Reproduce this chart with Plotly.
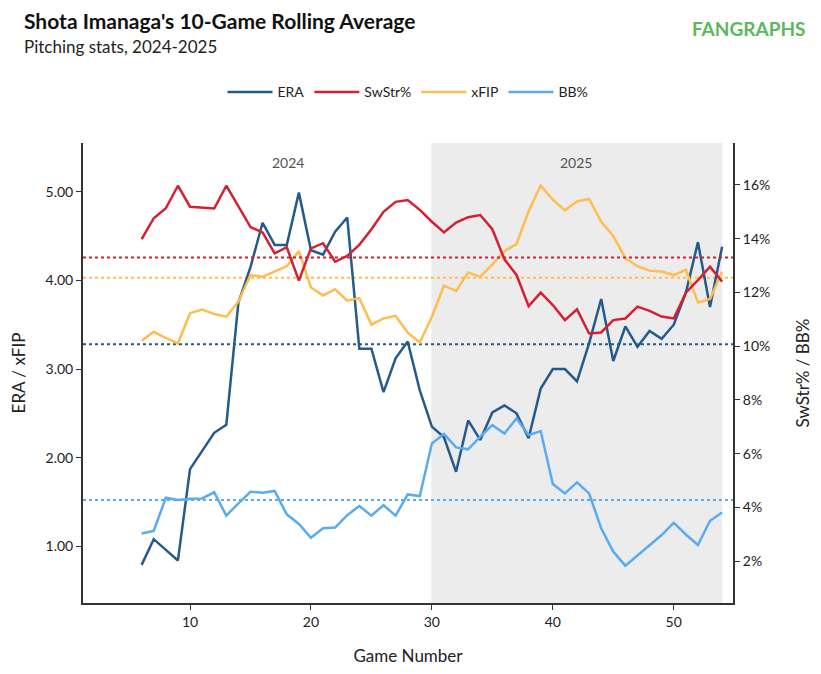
import plotly.graph_objects as go

games = list(range(6, 55))
era = [0.79,1.08,0.96,0.84,1.87,2.07,2.28,2.37,3.75,4.15,4.65,4.40,4.40,4.99,4.34,4.29,4.55,4.71,3.23,3.23,2.74,3.12,3.31,2.76,2.35,
       2.23,1.84,2.42,2.20,2.51,2.59,2.50,2.22,2.78,3.00,3.00,2.86,3.29,3.79,3.09,3.48,3.25,3.43,3.34,3.50,3.86,4.43,3.70,4.38]
swstr = [13.98,14.76,15.13,15.97,15.19,15.15,15.12,15.97,15.2,14.43,14.23,13.45,13.68,12.44,13.64,13.83,13.14,13.36,13.77,14.35,15.0,15.37,15.44,15.07,14.63,
         14.23,14.6,14.8,14.88,14.35,13.23,12.65,11.49,11.99,11.53,10.97,11.37,10.47,10.51,10.97,11.03,11.47,11.31,11.1,11.03,11.99,12.46,12.96,12.4]
xfip = [3.32,3.42,3.35,3.29,3.63,3.67,3.62,3.59,3.76,4.06,4.04,4.10,4.16,4.33,3.92,3.83,3.90,3.77,3.80,3.50,3.57,3.60,3.41,3.30,3.59,
        3.94,3.88,4.09,4.04,4.18,4.33,4.41,4.78,5.07,4.91,4.79,4.89,4.92,4.66,4.50,4.25,4.16,4.11,4.10,4.06,4.12,3.75,3.79,4.10]
bb = [3.03,3.12,4.36,4.27,4.32,4.33,4.56,3.69,4.15,4.58,4.54,4.61,3.74,3.38,2.87,3.22,3.25,3.71,4.05,3.69,4.08,3.69,4.48,4.42,6.38,
      6.73,6.23,6.16,6.63,7.06,6.75,7.31,6.69,6.84,4.87,4.52,4.93,4.52,3.22,2.35,1.83,2.22,2.6,2.97,3.43,2.99,2.6,3.5,3.81]
avg_era, avg_xfip, avg_swstr, avg_bb = 3.28, 4.03, 13.3, 4.27

C_ERA, C_SW, C_XF, C_BB = "#245a8c", "#d7202f", "#ffbd4f", "#5aabf0"
xr = [1.15, 54.9]

fig = go.Figure()
fig.add_vrect(x0=29.95, x1=54, fillcolor="#ececec", line_width=0, layer="below")
for val, c, ax in [(avg_era, C_ERA, "y"), (avg_xfip, C_XF, "y"), (avg_swstr, C_SW, "y2"), (avg_bb, C_BB, "y2")]:
    fig.add_trace(go.Scatter(x=xr, y=[val, val], mode="lines", yaxis=ax, showlegend=False,
                             line=dict(color=c, width=2, dash="dot"), hoverinfo="skip"))
fig.add_trace(go.Scatter(x=games, y=era, name="ERA", mode="lines", line=dict(color=C_ERA, width=2.5)))
fig.add_trace(go.Scatter(x=games, y=swstr, name="SwStr%", mode="lines", yaxis="y2", line=dict(color=C_SW, width=2.5)))
fig.add_trace(go.Scatter(x=games, y=xfip, name="xFIP", mode="lines", line=dict(color=C_XF, width=2.5)))
fig.add_trace(go.Scatter(x=games, y=bb, name="BB%", mode="lines", yaxis="y2", line=dict(color=C_BB, width=2.5)))

axcol = "#333333"
fig.update_layout(
    width=805, height=658, plot_bgcolor="white", paper_bgcolor="white",
    font=dict(family="Lato", size=14, color="#222"),
    margin=dict(l=75, r=80, t=135, b=63, autoexpand=False),
    legend=dict(orientation="h", x=0.5, xanchor="center", y=1.11, yanchor="middle",
                font=dict(size=14), itemwidth=45, traceorder="normal"),
    xaxis=dict(range=xr, tickvals=[10, 20, 30, 40, 50], showgrid=False, zeroline=False,
               showline=True, linecolor=axcol, linewidth=2, ticks="outside", tickcolor=axcol,
               title=dict(text="Game Number", standoff=22), automargin=False),
    yaxis=dict(range=[0.36, 5.55], tickvals=[1, 2, 3, 4, 5], tickformat=".2f", showgrid=False, zeroline=False,
               showline=True, linecolor=axcol, linewidth=2, ticks="outside", tickcolor=axcol,
               title=dict(text="ERA / xFIP", standoff=18), automargin=False),
    yaxis2=dict(range=[0.44, 17.56], overlaying="y", side="right", tickvals=list(range(2, 17, 2)),
                ticktext=[f"{v}%" for v in range(2, 17, 2)], showgrid=False, zeroline=False,
                showline=True, linecolor=axcol, linewidth=2, ticks="outside", tickcolor=axcol,
                title=dict(text="SwStr% / BB%", standoff=32), automargin=False),
    annotations=[
        dict(text="<b>Shota Imanaga's 10-Game Rolling Average</b>", x=-0.094, y=1.267, xref="paper", yref="paper",
             xanchor="left", yanchor="middle", showarrow=False, font=dict(size=21, color="#111")),
        dict(text="Pitching stats, 2024-2025", x=-0.094, y=1.21, xref="paper", yref="paper",
             xanchor="left", yanchor="middle", showarrow=False, font=dict(size=17, color="#222")),
        dict(text="<b><span style='color:#5cb85c'>FANGRAPHS</span></b>",
             x=1.115, y=1.25, xref="paper", yref="paper", xanchor="right", yanchor="middle",
             showarrow=False, font=dict(size=19)),
        dict(text="2024", x=18.1, y=5.33, xref="x", yref="y", showarrow=False, font=dict(size=14, color="#555")),
        dict(text="2025", x=41.9, y=5.33, xref="x", yref="y", showarrow=False, font=dict(size=14, color="#555")),
    ],
)
fig.write_html("out.html")
